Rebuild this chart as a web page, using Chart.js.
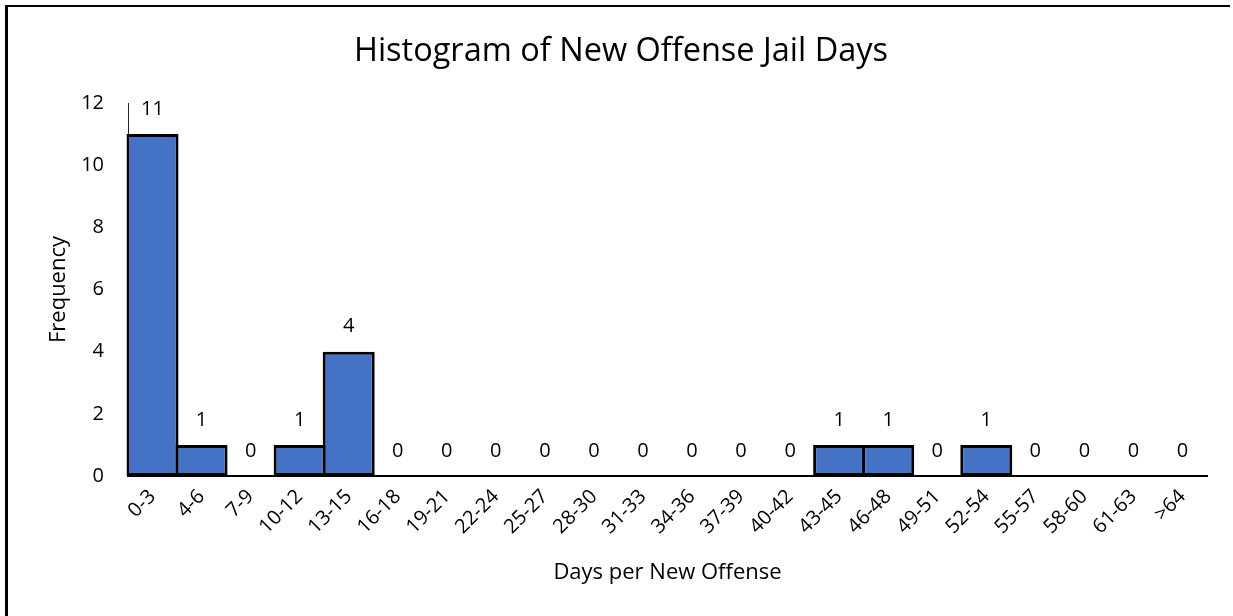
<!DOCTYPE html>
<html>
<head>
<meta charset="utf-8">
<title>Histogram of New Offense Jail Days</title>
<script src="https://cdn.jsdelivr.net/npm/chart.js@4/dist/chart.umd.min.js"></script>
<style>
  html, body { margin: 0; padding: 0; background: #fff; overflow: hidden; }
  #chart { display: block; }
</style>
</head>
<body>
<canvas id="chart" width="1233" height="616"></canvas>
<script>
// Day-range bins and how many offenses fall into each
const bins = ['0-3', '4-6', '7-9', '10-12', '13-15', '16-18', '19-21', '22-24', '25-27',
              '28-30', '31-33', '34-36', '37-39', '40-42', '43-45', '46-48', '49-51',
              '52-54', '55-57', '58-60', '61-63', '>64'];
const frequency = [11, 1, 0, 1, 4, 0, 0, 0, 0, 0, 0, 0, 0, 0, 1, 1, 0, 1, 0, 0, 0, 0];
const yTicks = [0, 2, 4, 6, 8, 10, 12];

const FONT = "'Open Sans', 'Noto Sans', sans-serif";

// Outer frame: only the left and top edges fall inside the canvas
const frame = {
  id: 'frame',
  afterDraw(chart) {
    const { ctx, width, height } = chart;
    ctx.save();
    ctx.fillStyle = '#000';
    ctx.fillRect(5, 5, 3, height - 5);
    ctx.fillRect(5, 5, width - 8, 2);
    ctx.restore();
  }
};

// Writes each bin's count just above its bar
const valueLabels = {
  id: 'valueLabels',
  afterDatasetsDraw(chart) {
    const { ctx } = chart;
    const meta = chart.getDatasetMeta(0);
    ctx.save();
    ctx.font = `20px ${FONT}`;
    ctx.fillStyle = '#000';
    ctx.textAlign = 'center';
    ctx.textBaseline = 'middle';
    meta.data.forEach((bar, i) => {
      ctx.fillText(String(frequency[i]), bar.x, bar.y - 25);
    });
    ctx.restore();
  }
};

new Chart(document.getElementById('chart'), {
  type: 'bar',
  data: {
    labels: bins,
    datasets: [{
      data: frequency,
      backgroundColor: '#4472C4',
      borderColor: '#000',
      borderWidth: 3,
      borderSkipped: false,
      // bars overlap by one border width so neighbouring outlines share one line
      categoryPercentage: 1,
      barPercentage: 1.061,
      clip: false
    }]
  },
  options: {
    responsive: false,
    animation: false,
    layout: { padding: { left: 9, right: 0, top: 0, bottom: 0 } },
    plugins: {
      legend: { display: false },
      tooltip: { enabled: false },
      title: {
        display: true,
        text: 'Histogram of New Offense Jail Days',
        color: '#000',
        font: { family: FONT, size: 32.5, weight: 'normal' },
        padding: { top: 32, bottom: 32 }
      }
    },
    scales: {
      x: {
        grid: { display: false, drawTicks: false },
        border: { display: true, color: '#000', width: 2 },
        ticks: {
          color: '#000',
          font: { family: FONT, size: 20 },
          minRotation: 45,
          maxRotation: 45,
          autoSkip: false,
          padding: 9
        },
        title: {
          display: true,
          text: 'Days per New Offense',
          color: '#000',
          font: { family: FONT, size: 22 },
          padding: { top: 0, bottom: 30 }
        },
        afterFit(scale) { scale.height = 140; }
      },
      y: {
        min: 0,
        max: 12,
        grid: { display: false, drawTicks: false },
        border: { display: true, color: '#222', width: 1 },
        ticks: {
          color: '#000',
          font: { family: FONT, size: 20 },
          padding: 24,
          stepSize: 2
        },
        afterBuildTicks(scale) { scale.ticks = yTicks.map(v => ({ value: v })); },
        title: {
          display: true,
          text: 'Frequency',
          color: '#000',
          font: { family: FONT, size: 22 },
          padding: { top: 37, bottom: 0 }
        },
        afterFit(scale) { scale.width = 119; }
      },
      // empty right-hand gutter so the plot ends short of the frame edge
      gutter: {
        type: 'linear',
        position: 'right',
        display: true,
        grid: { display: false, drawTicks: false },
        border: { display: false },
        ticks: { display: false },
        afterFit(scale) { scale.width = 26; }
      }
    }
  },
  plugins: [valueLabels, frame]
});
</script>
</body>
</html>
